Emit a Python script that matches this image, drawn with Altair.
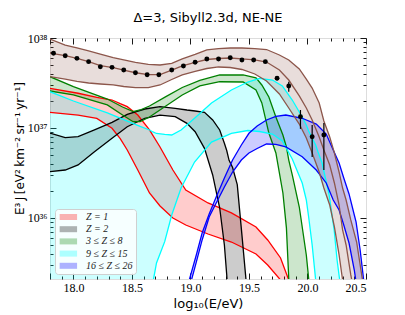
import altair as alt
import pandas as pd

# ---------------- data (values are log10 of E^3 J) ----------------
TITLE = "Δ=3, Sibyll2.3d, NE-NE"
YTITLE = "E³\u2009J\u2009[eV²\u2009km⁻²\u2009sr⁻¹\u2009yr⁻¹]"
GROUPS = ["Z = 1", "Z = 2", "3 ≤ Z ≤ 8", "9 ≤ Z ≤ 15", "16 ≤ Z ≤ 26"]
COLORS = ["#ff0000", "#000000", "#008000", "#00ffff", "#0000ff"]
BROWN = "#8c564b"

red_x = [17.80, 18.04, 18.20, 18.33, 18.40, 18.46, 18.55, 18.65, 18.74, 18.85, 18.96, 19.15, 19.35, 19.56, 19.66, 19.77, 19.84, 19.90]
red_hi = [37.441, 37.386, 37.34, 37.311, 37.27, 37.237, 37.144, 36.978, 36.789, 36.533, 36.311, 36.167, 36.056, 35.90, 35.756, 35.556, 35.311, 35.11]
red_lo = [37.174, 37.144, 37.106, 36.997, 36.882, 36.756, 36.533, 36.278, 36.133, 36.0, 35.922, 35.822, 35.733, 35.6, 35.478, 35.311, 35.144, 34.98]

blk_x = [17.80, 17.93, 18.04, 18.18, 18.33, 18.46, 18.61, 18.74, 18.87, 18.97, 19.04, 19.12, 19.19, 19.25, 19.29, 19.31, 19.33, 19.36, 19.40, 19.44, 19.475, 19.50]
blk_hi = [36.944, 36.892, 36.903, 36.978, 37.063, 37.152, 37.211, 37.237, 37.219, 37.20, 37.189, 37.174, 37.089, 36.978, 36.83, 36.75, 36.64, 36.56, 36.37, 35.81, 35.31, 34.87]
blk_lo = [36.514, 36.533, 36.589, 36.737, 36.886, 37.014, 37.108, 37.144, 37.126, 37.052, 36.959, 36.774, 36.478, 36.111, 35.70, 35.37, 34.90, 34.5, 34.5, 34.5, 34.5, 34.5]

grn_x = [17.80, 18.00, 18.29, 18.42, 18.51, 18.57, 18.65, 18.79, 18.93, 19.08, 19.25, 19.45, 19.56, 19.61, 19.67, 19.73, 19.79, 19.82, 19.84, 19.87, 19.93, 19.99, 20.02, 20.05]
grn_hi = [37.57, 37.459, 37.322, 37.233, 37.183, 37.20, 37.244, 37.348, 37.45, 37.528, 37.589, 37.589, 37.556, 37.478, 37.344, 37.122, 36.922, 36.789, 36.644, 36.478, 36.122, 35.589, 35.20, 34.76]
grn_lo = [37.411, 37.367, 37.256, 37.144, 37.07, 37.07, 37.122, 37.244, 37.367, 37.467, 37.514, 37.511, 37.422, 37.278, 36.944, 36.722, 36.278, 35.89, 35.33, 34.8, 34.5, 34.5, 34.5, 34.5]

cyn_x = [17.80, 18.00, 18.29, 18.57, 18.65, 18.68, 18.71, 18.78, 18.84, 18.92, 19.035, 19.18, 19.35, 19.49, 19.59, 19.70, 19.785, 19.87, 19.955, 19.99, 20.01, 20.04, 20.07, 20.09, 20.125, 20.185, 20.228, 20.253, 20.275, 20.296]
cyn_hi = [37.403, 37.30, 37.167, 37.017, 36.978, 36.956, 36.939, 36.928, 36.922, 36.978, 37.108, 37.278, 37.422, 37.511, 37.552, 37.533, 37.467, 37.311, 37.122, 37.033, 36.967, 36.889, 36.811, 36.733, 36.611, 36.256, 35.867, 35.533, 35.311, 35.089]
cyn_lo = [34.5, 34.5, 34.5, 34.5, 34.6, 35.29, 35.5, 35.737, 36.033, 36.333, 36.622, 36.844, 36.941, 36.972, 36.961, 36.933, 36.856, 36.656, 36.389, 36.2, 36.011, 35.7, 35.311, 35.09, 34.5, 34.5, 34.5, 34.5, 34.5, 34.5]

blu_x = [18.96, 18.99, 19.05, 19.10, 19.16, 19.22, 19.29, 19.36, 19.435, 19.50, 19.57, 19.65, 19.73, 19.815, 19.955, 20.075, 20.16, 20.22, 20.27, 20.31, 20.355, 20.40, 20.415, 20.45, 20.48, 20.50]
blu_hi = [35.144, 35.311, 35.589, 35.833, 36.044, 36.233, 36.444, 36.644, 36.811, 36.941, 37.022, 37.089, 37.128, 37.144, 37.108, 37.044, 36.933, 36.756, 36.611, 36.444, 36.267, 36.033, 35.956, 35.644, 35.311, 35.10]
blu_lo = [35.09, 35.22, 35.51, 35.756, 36.011, 36.167, 36.344, 36.511, 36.644, 36.722, 36.772, 36.822, 36.817, 36.789, 36.681, 36.533, 36.389, 36.2, 36.089, 35.922, 35.722, 35.422, 35.289, 34.5, 34.5, 34.5]

brn_x = [17.80, 17.93, 18.03, 18.13, 18.23, 18.34, 18.43, 18.53, 18.64, 18.74, 18.84, 18.93, 19.04, 19.14, 19.24, 19.34, 19.44, 19.55, 19.65, 19.76, 19.84, 19.93, 19.99, 20.04, 20.10, 20.14, 20.19, 20.23, 20.27, 20.30, 20.33, 20.37, 20.42, 20.47, 20.50]
brn_hi = [37.989, 37.922, 37.889, 37.856, 37.822, 37.783, 37.756, 37.728, 37.706, 37.70, 37.717, 37.767, 37.817, 37.867, 37.883, 37.889, 37.889, 37.883, 37.872, 37.811, 37.756, 37.656, 37.544, 37.444, 37.278, 37.078, 36.90, 36.722, 36.511, 36.333, 36.20, 35.978, 35.733, 35.311, 35.089]
brn_mid = [37.833, 37.803, 37.774, 37.737, 37.694, 37.672, 37.644, 37.614, 37.592, 37.592, 37.644, 37.689, 37.730, 37.761, 37.772, 37.778, 37.767, 37.756, 37.733, 37.644, 37.533, 37.356, 37.222, 37.089, 36.90, 36.756, 36.589, 36.389, 36.144, 35.867, 35.70, 35.367, 35.03, 34.6, 34.5]
brn_lo = [37.57, 37.544, 37.517, 37.50, 37.489, 37.478, 37.461, 37.448, 37.448, 37.478, 37.539, 37.589, 37.628, 37.661, 37.678, 37.672, 37.65, 37.60, 37.522, 37.378, 37.222, 37.044, 36.889, 36.722, 36.511, 36.333, 36.144, 35.90, 35.589, 35.311, 35.089, 34.7, 34.5, 34.5, 34.5]

pt_x = [17.83, 17.93, 18.03, 18.13, 18.23, 18.33, 18.43, 18.53, 18.63, 18.73, 18.84, 18.94, 19.04, 19.14, 19.24, 19.34, 19.44, 19.54, 19.64, 19.74, 19.84, 19.94, 20.04, 20.14]
pt_y = [37.830, 37.803, 37.774, 37.737, 37.681, 37.674, 37.644, 37.614, 37.592, 37.592, 37.644, 37.689, 37.730, 37.767, 37.767, 37.781, 37.756, 37.756, 37.737, 37.552, 37.467, 37.126, 36.903, 36.922]
pt_hi = [37.835, 37.808, 37.779, 37.742, 37.686, 37.679, 37.649, 37.619, 37.597, 37.597, 37.649, 37.694, 37.735, 37.772, 37.772, 37.786, 37.762, 37.762, 37.745, 37.57, 37.514, 37.20, 37.033, 37.056]
pt_lo = [37.825, 37.798, 37.769, 37.732, 37.676, 37.669, 37.639, 37.609, 37.587, 37.587, 37.639, 37.684, 37.725, 37.762, 37.762, 37.776, 37.750, 37.750, 37.729, 37.53, 37.403, 36.99, 36.678, 36.533]

x_major = [17.8, 18.0, 18.5, 19.0, 19.5, 20.0, 20.5]
x_minor = [17.9, 18.1, 18.2, 18.3, 18.4, 18.6, 18.7, 18.8, 18.9, 19.1, 19.2, 19.3, 19.4, 19.6, 19.7, 19.8, 19.9, 20.1, 20.2, 20.3, 20.4]
y_major = [1e36, 1e37, 1e38]
y_minor = [3e35, 4e35, 5e35, 6e35, 7e35, 8e35, 9e35,
           2e36, 3e36, 4e36, 5e36, 6e36, 7e36, 8e36, 9e36,
           2e37, 3e37, 4e37, 5e37, 6e37, 7e37, 8e37, 9e37]

# ---------------- tables ----------------
bands = [
    (GROUPS[0], red_x, red_hi, red_lo),
    (GROUPS[1], blk_x, blk_hi, blk_lo),
    (GROUPS[2], grn_x, grn_hi, grn_lo),
    (GROUPS[3], cyn_x, cyn_hi, cyn_lo),
    (GROUPS[4], blu_x, blu_hi, blu_lo),
]
band_rows, line_rows = [], []
for g, xs, hs, ls in bands:
    for x, h, l in zip(xs, hs, ls):
        band_rows.append({"group": g, "x": x, "y": 10 ** h, "y2": 10 ** l})
        line_rows.append({"group": g, "edge": "hi", "x": x, "y": 10 ** h})
        line_rows.append({"group": g, "edge": "lo", "x": x, "y": 10 ** l})
for x, h, m, l in zip(brn_x, brn_hi, brn_mid, brn_lo):
    line_rows.append({"group": "total", "edge": "hi", "x": x, "y": 10 ** h})
    line_rows.append({"group": "total", "edge": "mid", "x": x, "y": 10 ** m})
    line_rows.append({"group": "total", "edge": "lo", "x": x, "y": 10 ** l})
df_band = pd.DataFrame(band_rows)
df_line = pd.DataFrame(line_rows)
df_brown = pd.DataFrame({"x": brn_x, "y": [10 ** v for v in brn_hi], "y2": [10 ** v for v in brn_lo]})
df_pts = pd.DataFrame({"x": pt_x, "y": [10 ** v for v in pt_y],
                       "yh": [10 ** v for v in pt_hi], "yl": [10 ** v for v in pt_lo]})
df_title = pd.DataFrame({"t": [TITLE]})

W, H = 316, 241
XS = alt.Scale(domain=[17.8, 20.5], nice=False, zero=False)
YS = alt.Scale(type="log", domain=[10 ** 35.322, 1e38], nice=False)
SERIF = "Liberation Serif"
SANS = "DejaVu Sans"


def tick_axis(orient, values, size):
    return alt.Axis(orient=orient, values=values, labels=False, domain=False, grid=False,
                    ticks=True, tickSize=size, offset=-size, tickColor="black",
                    tickWidth=0.9, title=None)


ax_bottom = alt.Axis(orient="bottom", values=x_major,
                     labelExpr="datum.value < 17.95 ? '' : format(datum.value, '.1f')",
                     domain=False, grid=False, ticks=True, tickSize=6, offset=-6,
                     tickColor="black", tickWidth=0.9, labelFont=SERIF, labelFontSize=12,
                     labelColor="black", labelPadding=3,
                     title="log₁₀(E/eV)", titleFont=SANS, titleFontSize=13, titleFontWeight="normal",
                     titleColor="black", titleX=W / 2, titleY=34, titleBaseline="alphabetic",
                     titleAlign="center")
ax_left = alt.Axis(orient="left", values=y_major,
                   labelExpr="datum.value > 5e37 ? '10³⁸' : (datum.value > 5e36 ? '10³⁷' : '10³⁶')",
                   domain=False, grid=False, ticks=True, tickSize=6, offset=-6,
                   tickColor="black", tickWidth=0.9, labelFont=SERIF, labelFontSize=12,
                   labelColor="black", labelPadding=3,
                   title=YTITLE, titleFont=SANS, titleFontSize=12,
                   titleFontWeight="normal", titleColor="black", titleAngle=270,
                   titleX=-33, titleY=110, titleBaseline="alphabetic", titleAlign="center")


def carrier(ax, ay):
    return alt.Chart(df_pts).mark_point(opacity=0).encode(
        x=alt.X("x:Q", scale=XS, axis=ax), y=alt.Y("y:Q", scale=YS, axis=ay))


axes_layers = [
    carrier(ax_bottom, ax_left),
    carrier(tick_axis("bottom", x_minor, 3), tick_axis("left", y_minor, 3)),
    carrier(tick_axis("top", x_major, 6), tick_axis("right", y_major, 6)),
    carrier(tick_axis("top", x_minor, 3), tick_axis("right", y_minor, 3)),
]

band_area = alt.Chart(df_band).mark_area(fillOpacity=0.2, clip=True).encode(
    x=alt.X("x:Q", scale=XS, axis=None),
    y=alt.Y("y:Q", scale=YS, axis=None),
    y2="y2:Q",
    fill=alt.Fill("group:N", scale=alt.Scale(domain=GROUPS, range=COLORS),
                  legend=alt.Legend(orient="bottom-left", offset=5, title=None,
                                    fillColor="rgba(255,255,255,0.82)", strokeColor="#d0d0d0",
                                    cornerRadius=3, padding=3,
                                    symbolType="M-1,-0.9H4.2V0.9H-1Z", symbolSize=45,
                                    symbolOpacity=0.3, symbolStrokeWidth=0,
                                    labelFont=SERIF, labelFontSize=10, labelFontStyle="italic",
                                    labelColor="#222222", labelOffset=18, rowPadding=2.2)),
)
brown_area = alt.Chart(df_brown).mark_area(color=BROWN, fillOpacity=0.2, clip=True).encode(
    x=alt.X("x:Q", scale=XS, axis=None),
    y=alt.Y("y:Q", scale=YS, axis=None),
    y2="y2:Q",
)
lines = alt.Chart(df_line).mark_line(strokeWidth=1.3, clip=True).encode(
    x=alt.X("x:Q", scale=XS, axis=None),
    y=alt.Y("y:Q", scale=YS, axis=None),
    stroke=alt.Stroke("group:N", scale=alt.Scale(domain=GROUPS + ["total"], range=COLORS + [BROWN]),
                      legend=None),
    detail="edge:N",
)
errbars = alt.Chart(df_pts).mark_rule(color="black", strokeWidth=1.2, clip=True).encode(
    x=alt.X("x:Q", scale=XS, axis=None),
    y=alt.Y("yh:Q", scale=YS, axis=None),
    y2="yl:Q",
)
points = alt.Chart(df_pts).mark_circle(color="black", opacity=1, size=24, clip=True).encode(
    x=alt.X("x:Q", scale=XS, axis=None),
    y=alt.Y("y:Q", scale=YS, axis=None),
)
title_text = alt.Chart(df_title).mark_text(font=SANS, fontSize=13, align="center",
                                           baseline="alphabetic", color="black").encode(
    x=alt.value(W / 2), y=alt.value(-16), text="t:N")

chart = alt.layer(
    band_area, brown_area, lines, errbars, points, title_text, *axes_layers
).resolve_axis(x="independent", y="independent").properties(
    width=W, height=H,
    autosize=alt.AutoSizeParams(type="none"),
    padding={"left": 42, "top": 30, "right": 31, "bottom": 34},
).configure_view(stroke="black", strokeWidth=1).configure(background="white")

chart.save("out.html", embed_options={"renderer": "svg", "actions": False})
